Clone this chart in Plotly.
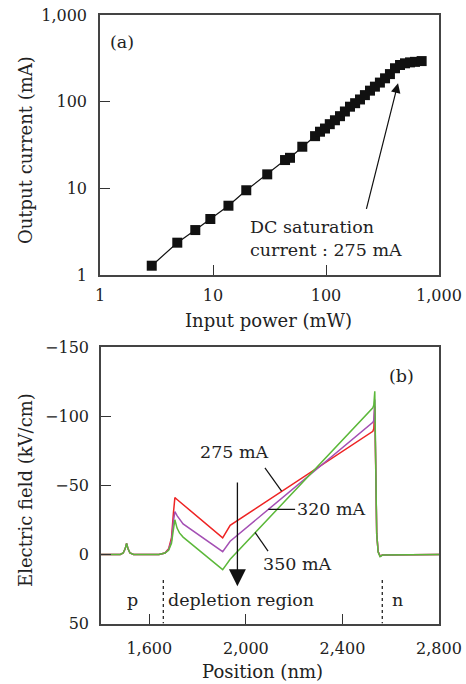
import math
import plotly.graph_objects as go

# ---------------- Data: panel (a) ----------------
input_power_mw = [2.87, 4.83, 6.97, 9.47, 13.7, 19.7, 30.2, 43.4, 48, 61.7, 80,
                  88.5, 98, 108, 120, 133, 147, 163, 181, 200, 221, 245, 271,
                  300, 333, 368, 408, 452, 500, 554, 613, 702]
output_current_ma = [1.28, 2.36, 3.30, 4.43, 6.3, 9.5, 14.5, 21.2, 22.5, 30.2, 40,
                     45, 49, 55, 61, 68, 77, 87.5, 96, 106, 119, 134, 149,
                     166, 186, 208, 243, 265, 277, 284, 288, 294]
log_ticks_a = [1, 10, 100, 1000]
log_tick_text_a = ["1", "10", "100", "1,000"]

# ---------------- Data: panel (b) ----------------
position_nm = [1400, 1480, 1492, 1500, 1506, 1512, 1520, 1535, 1640, 1665, 1680,
               1692, 1700, 1706, 1715, 1725, 1740, 1904, 1935, 2526, 2530, 2534,
               2538, 2542, 2548, 2556, 2566, 2800]
field_275 = [0, 0, -1, -4, -8, -4, -1, 0, 0, -1, -4,
             -12, -30, -41, -39.7, -38.2, -36.0, -12, -21, -89, -91, -107,
             -60, -15, -2, 1.2, 0.5, 0]
field_320 = [0, 0, -1, -4, -8, -4, -1, 0, 0, -1, -3.5,
             -10, -24, -31, -28, -25.5, -22, -2, -9.5, -95.5, -97, -112,
             -62, -15, -2, 1.4, 0.5, 0]
field_350 = [0, 0, -1, -4, -8, -4, -1, 0, 0, -1, -3,
             -8, -18, -25, -19, -15.5, -12.5, 11, 3.5, -106, -108, -118,
             -64, -15, -1.5, 1.6, 0.5, 0]
series_b = [("275 mA", field_275, "#ee2424"),
            ("320 mA", field_320, "#a450b4"),
            ("350 mA", field_350, "#5cb83a")]
y_ticks_b = [-150, -100, -50, 0, 50]
y_tick_text_b = ["\u2212150", "\u2212100", "\u221250", "0", "50"]
x_ticks_b = [1600, 2000, 2400, 2800]
x_tick_text_b = ["1,600", "2,000", "2,400", "2,800"]

FONT = "DejaVu Serif"
W, H = 466, 684

fig = go.Figure()

fig.add_trace(go.Scatter(
    x=input_power_mw, y=output_current_ma, mode="lines+markers",
    line=dict(color="#111", width=1.2),
    marker=dict(symbol="square", size=10, color="#111"),
    xaxis="x", yaxis="y", showlegend=False))

for name, vals, col in series_b:
    fig.add_trace(go.Scatter(
        x=position_nm, y=vals, mode="lines", name=name,
        line=dict(color=col, width=1.5),
        xaxis="x2", yaxis="y2", showlegend=False))

def px_x(p):
    return p / W

def px_y(p):
    return 1 - p / H

axis_common = dict(showline=True, mirror=True, linecolor="#444", linewidth=1.5,
                   ticks="inside", ticklen=10, tickwidth=1.3, tickcolor="#333",
                   showgrid=False, zeroline=False, automargin=False,
                   tickfont=dict(family=FONT, size=16, color="#222"))

fig.update_layout(
    template="none",
    width=W, height=H, margin=dict(l=0, r=0, t=0, b=0, autoexpand=False),
    paper_bgcolor="white", plot_bgcolor="white",
    font=dict(family=FONT, color="#222"),
    xaxis=dict(type="log", range=[0, 3], domain=[px_x(100), px_x(439)],
               anchor="y", tickvals=log_ticks_a, ticktext=log_tick_text_a,
               ticklabelstandoff=5, **axis_common),
    yaxis=dict(type="log", range=[0, 3], domain=[px_y(275), px_y(15)],
               anchor="x", tickvals=log_ticks_a, ticktext=log_tick_text_a,
               ticklabelstandoff=8, **axis_common),
    xaxis2=dict(range=[1400, 2800], domain=[px_x(101), px_x(439)],
                anchor="y2", tickvals=x_ticks_b, ticktext=x_tick_text_b,
                ticklabelstandoff=10, **axis_common),
    yaxis2=dict(range=[50, -150], domain=[px_y(623.5), px_y(347)],
                anchor="x2", tickvals=y_ticks_b, ticktext=y_tick_text_b,
                ticklabelstandoff=7, **axis_common),
)

ann_font = dict(family=FONT, size=17.5, color="#222")
title_font = dict(family=FONT, size=18, color="#222")

def paper_text(text, x, y, angle=0):
    return dict(text=text, x=px_x(x), y=px_y(y), xref="paper", yref="paper",
                xanchor="center", yanchor="middle", textangle=angle,
                showarrow=False, font=title_font)

annotations = [
    # axis titles
    paper_text("Output current (mA)", 25, 150, -90),
    paper_text("Input power (mW)", 268, 320),
    paper_text("Electric field (kV/cm)", 25, 490, -90),
    paper_text("Position (nm)", 262, 671),
    # panel (a)
    dict(text="(a)", x=math.log10(1.57), y=math.log10(488), xref="x", yref="y",
         xanchor="center", yanchor="middle", showarrow=False, font=ann_font),
    dict(text="DC saturation<br>current : 275 mA", x=math.log10(20.4), y=math.log10(2.67),
         xref="x", yref="y", xanchor="left", yanchor="middle", align="left",
         showarrow=False, font=ann_font),
    dict(text="", x=math.log10(434), y=math.log10(163), xref="x", yref="y",
         showarrow=True, ax=-32, ay=127, arrowhead=2, arrowsize=1.6,
         arrowwidth=1.2, arrowcolor="#111"),
    # panel (b)
    dict(text="(b)", x=2646, y=-128.8, xref="x2", yref="y2", showarrow=False, font=ann_font),
    dict(text="275 mA", x=1955, y=-73.7, xref="x2", yref="y2", showarrow=False, font=ann_font),
    dict(text="320 mA", x=2204, y=-32.5, xref="x2", yref="y2", xanchor="left",
         showarrow=False, font=ann_font),
    dict(text="350 mA", x=2212, y=7.2, xref="x2", yref="y2", showarrow=False, font=ann_font),
    dict(text="p", x=1531, y=33, xref="x2", yref="y2", showarrow=False, font=ann_font),
    dict(text="depletion region", x=1979, y=33, xref="x2", yref="y2", showarrow=False,
         font=ann_font),
    dict(text="n", x=2627, y=33, xref="x2", yref="y2", showarrow=False, font=ann_font),
    dict(text="", x=1965, y=23, xref="x2", yref="y2", showarrow=True,
         axref="x2", ayref="y2", ax=1965, ay=-53, arrowhead=2, arrowsize=2.6,
         arrowwidth=1.3, arrowcolor="#111"),
]
fig.update_layout(annotations=annotations)

shapes = [
    dict(type="line", xref="x2", yref="y2", x0=2079, y0=-62.6, x1=2148, y1=-45.7,
         line=dict(color="#111", width=1.2)),
    dict(type="line", xref="x2", yref="y2", x0=2093, y0=-32.5, x1=2204, y1=-32.5,
         line=dict(color="#111", width=1.2)),
    dict(type="line", xref="x2", yref="y2", x0=2038, y0=-15.9, x1=2092, y1=-2.4,
         line=dict(color="#111", width=1.2)),
    dict(type="line", xref="x2", yref="y2", x0=1658, y0=18.6, x1=1658, y1=50,
         line=dict(color="#111", width=1.2, dash="dot")),
    dict(type="line", xref="x2", yref="y2", x0=2565, y0=18.6, x1=2565, y1=50,
         line=dict(color="#111", width=1.2, dash="dot")),
]
fig.update_layout(shapes=shapes)

fig.write_html(
    "out.html",
    config={"displayModeBar": False},
    post_script="document.body.style.margin='0';document.body.style.overflow='hidden';",
)
